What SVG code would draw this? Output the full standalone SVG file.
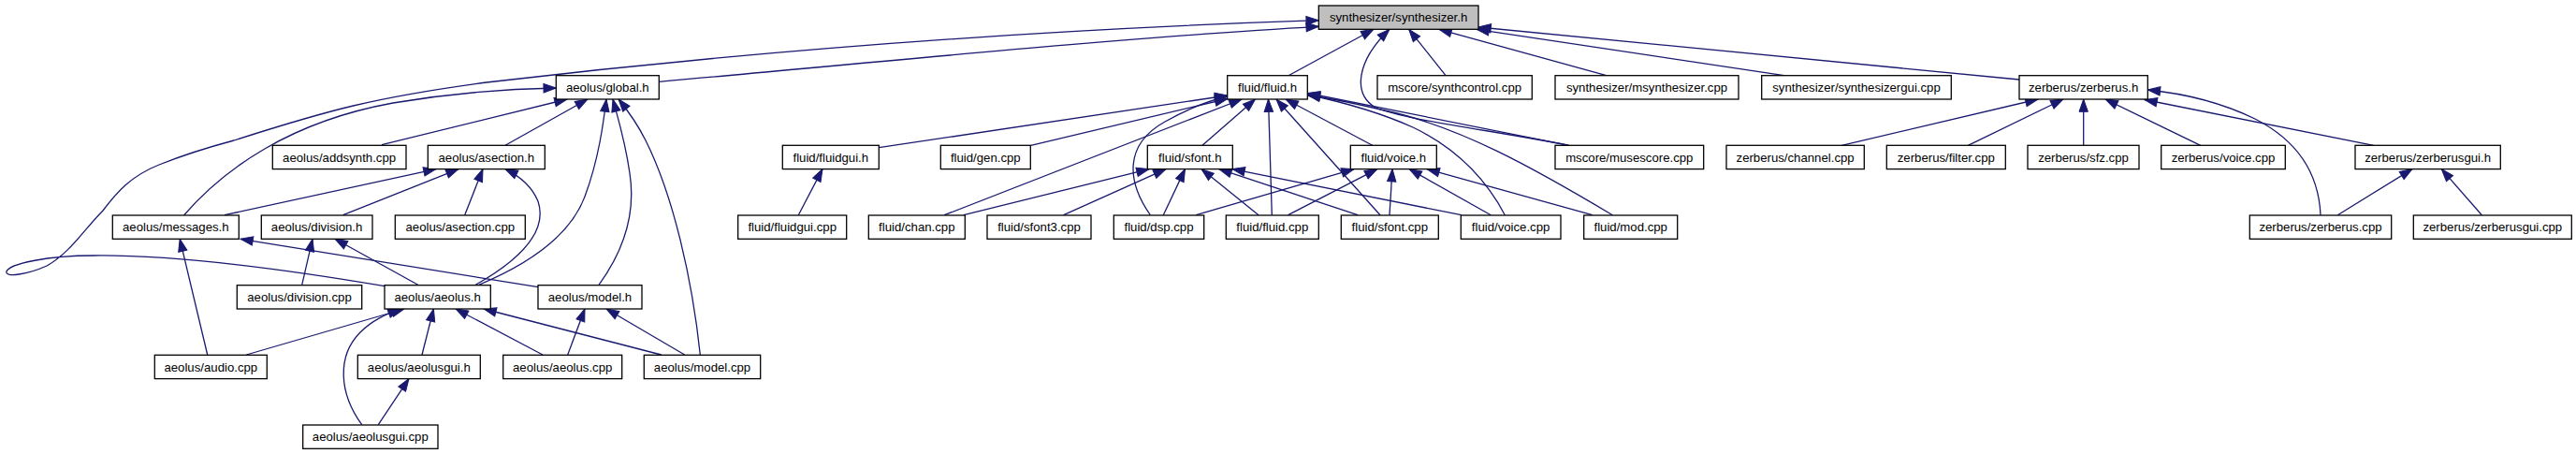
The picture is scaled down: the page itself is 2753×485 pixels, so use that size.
<svg xmlns="http://www.w3.org/2000/svg" width="2753" height="485" viewBox="0 0 2753 485">
<style>
.node rect{fill:#fff;stroke:#000;stroke-width:1.3}
#n_synth rect{fill:#bfbfbf}
.node text{font-family:"Liberation Sans",Arial,sans-serif;font-size:13.2px;text-anchor:middle;fill:#000}
#edges path{fill:none;stroke:#191970;stroke-width:1.3;marker-end:url(#arr)}
</style>
<defs>
<marker id="arr" markerUnits="userSpaceOnUse" markerWidth="13.3" markerHeight="9.4" viewBox="0 0 13.3 9.4" refX="13.3" refY="4.7" orient="auto" overflow="visible">
<path d="M0,0 L13.3,4.7 L0,9.4 z" fill="#191970" stroke="#191970" stroke-width="1"/>
</marker>
</defs>
<rect x="0" y="0" width="2753" height="485" fill="#fff"/>
<g id="edges">
<path d="M411,305.7 C330,292 200,272 100,273 C50,273 10,282 7,290 C5,297 30,293 50,284 C75,270 90,245 110,225 C125,205 140,188 170,176 C200,164 220,158 250,150 C350,118 400,104 520,88 C800,55 1100,32 1409.3,21.7"/>
<path d="M704.3,87.3 C900,70 1200,40 1409.3,28.3"/>
<path d="M1377,80.7 L1468,31.3"/>
<path d="M1676.7,155.3 C1600,140 1500,128 1470,115 C1445,100 1450,65 1485,31.3"/>
<path d="M1545,80.7 L1505.7,31.3"/>
<path d="M1716.7,80.7 L1538,31.3"/>
<path d="M1906.7,80.7 L1578,31.3"/>
<path d="M2158,85 L1580,29"/>
<path d="M939.3,157.7 L1311.7,102"/>
<path d="M1101.7,155.3 L1311.7,105.5"/>
<path d="M1009.3,229.7 L1327,106"/>
<path d="M1229.3,229.7 C1205,195 1200,155 1245,130 C1270,116 1290,108 1311.7,103"/>
<path d="M1285,155.3 L1341.5,106"/>
<path d="M1359.3,229.7 L1355.5,106"/>
<path d="M1475,229.7 L1364,106"/>
<path d="M1466.7,155.3 L1374,106"/>
<path d="M1608.3,229.7 C1590,195 1560,160 1510,136 C1470,118 1430,108 1397.3,101"/>
<path d="M1723.3,229.7 C1640,180 1560,135 1480,118 C1450,111 1420,104 1397.3,102"/>
<path d="M1676.7,155.3 L1397.3,99.5"/>
<path d="M1030,229.7 L1228,180.6"/>
<path d="M1136.7,229.7 L1246,180.6"/>
<path d="M1243.3,229.7 L1266.5,180.6"/>
<path d="M1345,229.7 L1284,180.6"/>
<path d="M1451,229.7 L1303,180.6"/>
<path d="M1561.7,229.7 L1317,180.6"/>
<path d="M1278.3,229.7 L1447,180.6"/>
<path d="M1376.7,229.7 L1471.8,180.6"/>
<path d="M1485,229.7 L1488,180.6"/>
<path d="M1593.3,229.7 L1506,180.6"/>
<path d="M1701.7,229.7 L1525,180.6"/>
<path d="M196.7,229.7 C240,180 310,130 420,110 C480,100 540,95 594.3,94"/>
<path d="M408,154.7 L606,106"/>
<path d="M540,155.3 L628,106"/>
<path d="M511.7,304.3 C570,280 610,250 625,210 C640,170 645,130 648,106"/>
<path d="M640,304.3 C665,270 680,230 673,185 C668,150 660,125 655,106"/>
<path d="M748.3,379 C740,300 720,210 690,150 C680,130 670,117 661,106"/>
<path d="M240,229.7 L466,180.6"/>
<path d="M366.7,229.7 L490,180.6"/>
<path d="M496.7,229.7 L516,180.6"/>
<path d="M508.3,304.3 C560,275 585,245 575,215 C568,198 555,188 540,180.6"/>
<path d="M575,306.7 L257,255.3"/>
<path d="M221.7,379 L192.2,255.3"/>
<path d="M322.7,304.3 L334,255.3"/>
<path d="M446.7,304.3 L358,255.3"/>
<path d="M263.3,379 L432,330"/>
<path d="M386.7,453.7 C362,420 360,380 385,355 C398,342 412,336 428,330"/>
<path d="M451,379 L463.4,330"/>
<path d="M404.3,453.7 L437,404.6"/>
<path d="M580,379 L487,330"/>
<path d="M706.7,379 L517,330"/>
<path d="M606.7,379 L625,330"/>
<path d="M731.7,379 L648,330"/>
<path d="M853.3,229.7 L879,180.6"/>
<path d="M1968.3,155.3 L2178,106"/>
<path d="M2103.3,155.3 L2205,106"/>
<path d="M2226.7,155.3 L2226.7,106"/>
<path d="M2351.7,155.3 L2250,106"/>
<path d="M2536.7,155.3 L2292,106.5"/>
<path d="M2480,229.7 C2478,185 2455,150 2410,127 C2375,110 2335,100 2295.3,96"/>
<path d="M2498.3,229.7 L2578,180.6"/>
<path d="M2652.3,229.7 L2609.3,180.6"/>
</g>
<g id="n_synth" class="node"><rect x="1409.3" y="6" width="170.7" height="25.3"/><text x="1494.6" y="23.3">synthesizer/synthesizer.h</text></g>
<g id="n_global" class="node"><rect x="594.3" y="80.7" width="110" height="25.3"/><text x="649.3" y="98">aeolus/global.h</text></g>
<g id="n_fluidh" class="node"><rect x="1311.7" y="80.7" width="85.6" height="25.3"/><text x="1354.5" y="98">fluid/fluid.h</text></g>
<g id="n_synthcontrol" class="node"><rect x="1472" y="80.7" width="165.3" height="25.3"/><text x="1554.6" y="98">mscore/synthcontrol.cpp</text></g>
<g id="n_msynth" class="node"><rect x="1662" y="80.7" width="196" height="25.3"/><text x="1760" y="98">synthesizer/msynthesizer.cpp</text></g>
<g id="n_synthgui" class="node"><rect x="1882.7" y="80.7" width="202.6" height="25.3"/><text x="1984" y="98">synthesizer/synthesizergui.cpp</text></g>
<g id="n_zerberush" class="node"><rect x="2158" y="80.7" width="137.3" height="25.3"/><text x="2226.6" y="98">zerberus/zerberus.h</text></g>
<g id="n_addsynth" class="node"><rect x="291.3" y="155.3" width="142.7" height="25.3"/><text x="362.6" y="172.6">aeolus/addsynth.cpp</text></g>
<g id="n_asectionh" class="node"><rect x="457.3" y="155.3" width="125" height="25.3"/><text x="519.8" y="172.6">aeolus/asection.h</text></g>
<g id="n_fluidguih" class="node"><rect x="836.3" y="155.3" width="103" height="25.3"/><text x="887.8" y="172.6">fluid/fluidgui.h</text></g>
<g id="n_gen" class="node"><rect x="1005.3" y="155.3" width="96" height="25.3"/><text x="1053.3" y="172.6">fluid/gen.cpp</text></g>
<g id="n_sfonth" class="node"><rect x="1226.3" y="155.3" width="91" height="25.3"/><text x="1271.8" y="172.6">fluid/sfont.h</text></g>
<g id="n_voiceh" class="node"><rect x="1443.3" y="155.3" width="92" height="25.3"/><text x="1489.3" y="172.6">fluid/voice.h</text></g>
<g id="n_musescore" class="node"><rect x="1662" y="155.3" width="158.7" height="25.3"/><text x="1741.3" y="172.6">mscore/musescore.cpp</text></g>
<g id="n_channel" class="node"><rect x="1845" y="155.3" width="147.3" height="25.3"/><text x="1918.6" y="172.6">zerberus/channel.cpp</text></g>
<g id="n_filter" class="node"><rect x="2016.3" y="155.3" width="127" height="25.3"/><text x="2079.8" y="172.6">zerberus/filter.cpp</text></g>
<g id="n_sfz" class="node"><rect x="2167" y="155.3" width="119" height="25.3"/><text x="2226.5" y="172.6">zerberus/sfz.cpp</text></g>
<g id="n_zvoice" class="node"><rect x="2309.7" y="155.3" width="132.6" height="25.3"/><text x="2376" y="172.6">zerberus/voice.cpp</text></g>
<g id="n_zguih" class="node"><rect x="2517" y="155.3" width="155.3" height="25.3"/><text x="2594.6" y="172.6">zerberus/zerberusgui.h</text></g>
<g id="n_messages" class="node"><rect x="120.3" y="230" width="135" height="25.3"/><text x="187.8" y="247.3">aeolus/messages.h</text></g>
<g id="n_divisionh" class="node"><rect x="279.3" y="230" width="118.7" height="25.3"/><text x="338.6" y="247.3">aeolus/division.h</text></g>
<g id="n_asectioncpp" class="node"><rect x="422.3" y="230" width="139" height="25.3"/><text x="491.8" y="247.3">aeolus/asection.cpp</text></g>
<g id="n_fluidguicpp" class="node"><rect x="788.7" y="230" width="116" height="25.3"/><text x="846.7" y="247.3">fluid/fluidgui.cpp</text></g>
<g id="n_chan" class="node"><rect x="928.3" y="230" width="103" height="25.3"/><text x="979.8" y="247.3">fluid/chan.cpp</text></g>
<g id="n_sfont3" class="node"><rect x="1055" y="230" width="111" height="25.3"/><text x="1110.5" y="247.3">fluid/sfont3.cpp</text></g>
<g id="n_dsp" class="node"><rect x="1190.3" y="230" width="96.4" height="25.3"/><text x="1238.5" y="247.3">fluid/dsp.cpp</text></g>
<g id="n_fluidcpp" class="node"><rect x="1310.3" y="230" width="99" height="25.3"/><text x="1359.8" y="247.3">fluid/fluid.cpp</text></g>
<g id="n_sfontcpp" class="node"><rect x="1433.3" y="230" width="104" height="25.3"/><text x="1485.3" y="247.3">fluid/sfont.cpp</text></g>
<g id="n_voicecpp" class="node"><rect x="1561.3" y="230" width="106.7" height="25.3"/><text x="1614.6" y="247.3">fluid/voice.cpp</text></g>
<g id="n_mod" class="node"><rect x="1692.7" y="230" width="100" height="25.3"/><text x="1742.7" y="247.3">fluid/mod.cpp</text></g>
<g id="n_zcpp" class="node"><rect x="2404.3" y="230" width="151.4" height="25.3"/><text x="2480" y="247.3">zerberus/zerberus.cpp</text></g>
<g id="n_zguicpp" class="node"><rect x="2579.3" y="230" width="169" height="25.3"/><text x="2663.8" y="247.3">zerberus/zerberusgui.cpp</text></g>
<g id="n_divisioncpp" class="node"><rect x="253.3" y="304.7" width="133.4" height="25.3"/><text x="320" y="322">aeolus/division.cpp</text></g>
<g id="n_aeolush" class="node"><rect x="411" y="304.7" width="113.3" height="25.3"/><text x="467.6" y="322">aeolus/aeolus.h</text></g>
<g id="n_modelh" class="node"><rect x="575" y="304.7" width="111" height="25.3"/><text x="630.5" y="322">aeolus/model.h</text></g>
<g id="n_audio" class="node"><rect x="165.3" y="379.3" width="120" height="25.3"/><text x="225.3" y="396.6">aeolus/audio.cpp</text></g>
<g id="n_aeolusguih" class="node"><rect x="382.3" y="379.3" width="131" height="25.3"/><text x="447.8" y="396.6">aeolus/aeolusgui.h</text></g>
<g id="n_aeoluscpp" class="node"><rect x="537.7" y="379.3" width="127" height="25.3"/><text x="601.2" y="396.6">aeolus/aeolus.cpp</text></g>
<g id="n_modelcpp" class="node"><rect x="688.3" y="379.3" width="124.4" height="25.3"/><text x="750.5" y="396.6">aeolus/model.cpp</text></g>
<g id="n_aeolusguicpp" class="node"><rect x="323.7" y="454" width="144.3" height="25.3"/><text x="395.8" y="471.3">aeolus/aeolusgui.cpp</text></g>
</svg>
